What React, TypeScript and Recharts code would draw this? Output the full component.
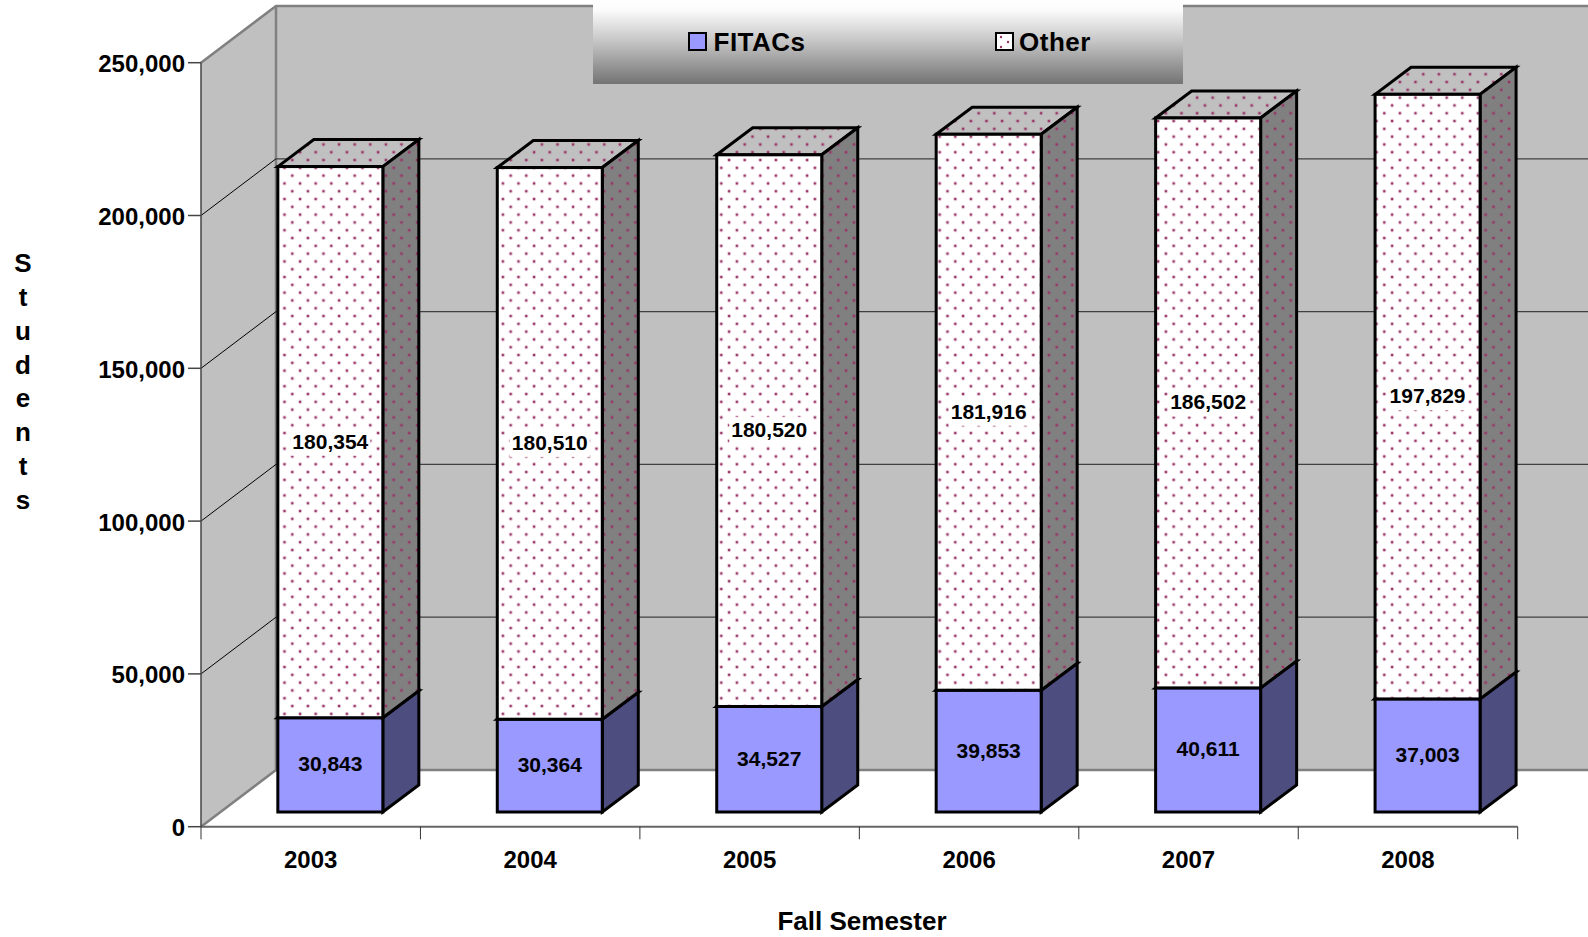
import { Bar, BarChart, CartesianGrid, LabelList, Legend, XAxis, YAxis } from 'recharts'

const YEARS = ['2003', '2004', '2005', '2006', '2007', '2008']
const FITACS = [30843, 30364, 34527, 39853, 40611, 37003]
const OTHER = [180354, 180510, 180520, 181916, 186502, 197829]
const Y_TICKS = [0, 50000, 100000, 150000, 200000, 250000]
const GRID_VALUES = [50000, 100000, 150000, 200000]
const Y_TITLE = 'Students'.split('')

const data = YEARS.map((year, i) => ({ year, FITACs: FITACS[i], Other: OTHER[i] }))

const W = 1588
const H = 937
const FONT = '"Liberation Sans", Arial, sans-serif'

// plot box, front plane of the fake 3d room
const LEFT = 201
const TOP = 62.7
const RIGHT = 1517.7
const BOTTOM = 826.7
const BAND = (RIGHT - LEFT) / YEARS.length

// depth of the room and of the columns
const ROOM_DX = 75
const ROOM_DY = 56.7
const BAR_DX = 36
const BAR_DY = 27
const SHIFT_X = 19.4
const SHIFT_Y = 14.7

const fmt = (v: number) => v.toLocaleString('en-US')

function DotPattern({ id, bg }: { id: string; bg: string }) {
  return (
    <pattern id={id} patternUnits="userSpaceOnUse" x={1381.3} y={94.7} width={15.6} height={15.6}>
      <rect width={15.6} height={15.6} fill={bg} />
      {[[3, 3], [10.8, 10.8]].map(([cx, cy]) => (
        <g key={cx}>
          <circle cx={cx} cy={cy} r={2.1} fill="#993366" opacity={0.25} />
          <circle cx={cx} cy={cy} r={1.2} fill="#993366" />
        </g>
      ))}
    </pattern>
  )
}

function Room() {
  return (
    <svg width={W} height={H} style={{ position: 'absolute', left: 0, top: 0 }}>
      <defs>
        <DotPattern id="dots-front" bg="#ffffff" />
        <DotPattern id="dots-side" bg="#808080" />
        <DotPattern id="dots-top" bg="#c0c0c0" />
      </defs>
      <rect x={LEFT + ROOM_DX} y={TOP - ROOM_DY} width={W} height={BOTTOM - TOP} fill="#c0c0c0" />
      <polygon
        points={`${LEFT},${TOP} ${LEFT + ROOM_DX},${TOP - ROOM_DY} ${LEFT + ROOM_DX},${BOTTOM - ROOM_DY} ${LEFT},${BOTTOM}`}
        fill="#c0c0c0"
      />
      <polyline
        points={`${LEFT},${TOP} ${LEFT + ROOM_DX},${TOP - ROOM_DY} ${W},${TOP - ROOM_DY}`}
        fill="none"
        stroke="#808080"
        strokeWidth={2.5}
      />
      <polyline
        points={`${LEFT},${BOTTOM} ${LEFT + ROOM_DX},${BOTTOM - ROOM_DY} ${W},${BOTTOM - ROOM_DY}`}
        fill="none"
        stroke="#808080"
        strokeWidth={2.5}
      />
      <line
        x1={LEFT + ROOM_DX}
        x2={LEFT + ROOM_DX}
        y1={TOP - ROOM_DY}
        y2={BOTTOM - ROOM_DY}
        stroke="#808080"
        strokeWidth={2.5}
      />
      <text x={862} y={930} textAnchor="middle" fontFamily={FONT} fontWeight="bold" fontSize={26}>
        Fall Semester
      </text>
      <text fontFamily={FONT} fontWeight="bold" fontSize={26} textAnchor="middle">
        {Y_TITLE.map((c, i) => (
          <tspan key={i} x={23} y={271.8 + i * 33.9}>
            {c}
          </tspan>
        ))}
      </text>
    </svg>
  )
}

function GridLine(props: any) {
  const { x1, y1 } = props
  return (
    <g>
      <line x1={x1} y1={y1} x2={x1 + ROOM_DX} y2={y1 - ROOM_DY} stroke="#000" strokeWidth={1} />
      <line x1={x1 + ROOM_DX} y1={y1 - ROOM_DY} x2={W} y2={y1 - ROOM_DY} stroke="#404040" strokeWidth={1.2} />
    </g>
  )
}

function Column(props: any) {
  const { x, y, width, height, front, side, top } = props
  const l = x + SHIFT_X
  const r = l + width
  const t = y - SHIFT_Y
  const b = t + height
  const edge = { stroke: '#000', strokeWidth: 3, strokeLinejoin: 'miter' as const }
  return (
    <g>
      <polygon
        points={`${l},${t} ${l + BAR_DX},${t - BAR_DY} ${r + BAR_DX},${t - BAR_DY} ${r},${t}`}
        fill={top}
        {...edge}
      />
      <polygon
        points={`${r},${t} ${r + BAR_DX},${t - BAR_DY} ${r + BAR_DX},${b - BAR_DY} ${r},${b}`}
        fill={side}
        {...edge}
      />
      <rect x={l} y={t} width={width} height={height} fill={front} {...edge} />
    </g>
  )
}

function ValueLabel(props: any) {
  const { x, y, width, height, value, boxed } = props
  const cx = x + SHIFT_X + width / 2
  const cy = y - SHIFT_Y + height / 2
  return (
    <g>
      {boxed && <rect x={cx - 40} y={cy - 13.5} width={80} height={27} fill="#fff" />}
      <text
        x={cx}
        y={cy}
        dy="0.31em"
        textAnchor="middle"
        fontFamily={FONT}
        fontWeight="bold"
        fontSize={21}
        fill="#000"
      >
        {fmt(value)}
      </text>
    </g>
  )
}

function YearTick(props: any) {
  const { x, payload, index } = props
  const last = index === YEARS.length - 1
  return (
    <g>
      <line x1={x - BAND / 2} x2={x - BAND / 2} y1={BOTTOM} y2={BOTTOM + 12.6} stroke="#333" />
      {last && <line x1={x + BAND / 2} x2={x + BAND / 2} y1={BOTTOM} y2={BOTTOM + 12.6} stroke="#333" />}
      <text x={x} y={868.4} textAnchor="middle" fontFamily={FONT} fontWeight="bold" fontSize={24} fill="#000">
        {payload.value}
      </text>
    </g>
  )
}

function YValueTick(props: any) {
  const { x, y, payload } = props
  return (
    <text x={x} y={y + 9.4} textAnchor="end" fontFamily={FONT} fontWeight="bold" fontSize={24} fill="#000">
      {fmt(payload.value)}
    </text>
  )
}

function LegendBar() {
  const swatch = { position: 'absolute' as const, top: 32, width: 15, height: 15, border: '2px solid #000' }
  const label = {
    position: 'absolute' as const,
    top: 27,
    lineHeight: '30px',
    fontFamily: FONT,
    fontWeight: 'bold',
    fontSize: 26,
    letterSpacing: 0.5,
    color: '#000',
  }
  return (
    <div
      style={{
        position: 'relative',
        width: 590.5,
        height: 84,
        background: 'linear-gradient(#ffffff 0%, #fbfbfb 12%, #c4c4c4 50%, #737373 100%)',
      }}
    >
      <div style={{ ...swatch, left: 95.5, background: '#9999ff' }} />
      <div style={{ ...label, left: 121 }}>FITACs</div>
      <div style={{ ...swatch, left: 402, background: '#fff' }}>
        <svg width={15} height={15} style={{ display: 'block' }}>
          <circle cx={4} cy={3} r={1.2} fill="#993366" />
          <circle cx={11} cy={8} r={1.2} fill="#993366" />
          <circle cx={4} cy={13} r={1.2} fill="#993366" />
        </svg>
      </div>
      <div style={{ ...label, left: 426.5 }}>Other</div>
    </div>
  )
}

export default function App() {
  return (
    <div style={{ position: 'absolute', left: 0, top: 0, width: W, height: H, overflow: 'hidden', background: '#fff' }}>
      <Room />
      <div style={{ position: 'absolute', left: 0, top: 0 }}>
        <BarChart
          width={W}
          height={H}
          data={data}
          margin={{ top: TOP, right: W - RIGHT, bottom: 0, left: 0 }}
          barCategoryGap="26.17%"
        >
          <CartesianGrid vertical={false} horizontalValues={GRID_VALUES} horizontal={(p: any) => <GridLine key={p.key} {...p} />} />
          <XAxis
            dataKey="year"
            height={H - BOTTOM}
            interval={0}
            axisLine={{ stroke: '#666', strokeWidth: 2 }}
            tickLine={false}
            tick={<YearTick />}
          />
          <YAxis
            width={LEFT}
            domain={[0, 250000]}
            ticks={Y_TICKS}
            interval={0}
            tickSize={13}
            tickMargin={3}
            axisLine={{ stroke: '#444', strokeWidth: 1.5 }}
            tickLine={{ stroke: '#444', strokeWidth: 1.5 }}
            tick={<YValueTick />}
          />
          <Legend
            layout="horizontal"
            verticalAlign="middle"
            content={<LegendBar />}
            wrapperStyle={{ left: 592.5, top: 0, width: 590.5, height: 84, bottom: 'auto', right: 'auto' }}
          />
          <Bar
            dataKey="FITACs"
            stackId="a"
            fill="#9999ff"
            isAnimationActive={false}
            shape={(p: any) => <Column {...p} front="#9999ff" side="#4d4d80" top="#7a7acc" />}
          >
            <LabelList dataKey="FITACs" content={(p: any) => <ValueLabel {...p} />} />
          </Bar>
          <Bar
            dataKey="Other"
            stackId="a"
            fill="#ffffff"
            isAnimationActive={false}
            shape={(p: any) => <Column {...p} front="url(#dots-front)" side="url(#dots-side)" top="url(#dots-top)" />}
          >
            <LabelList dataKey="Other" content={(p: any) => <ValueLabel {...p} boxed />} />
          </Bar>
        </BarChart>
      </div>
    </div>
  )
}
